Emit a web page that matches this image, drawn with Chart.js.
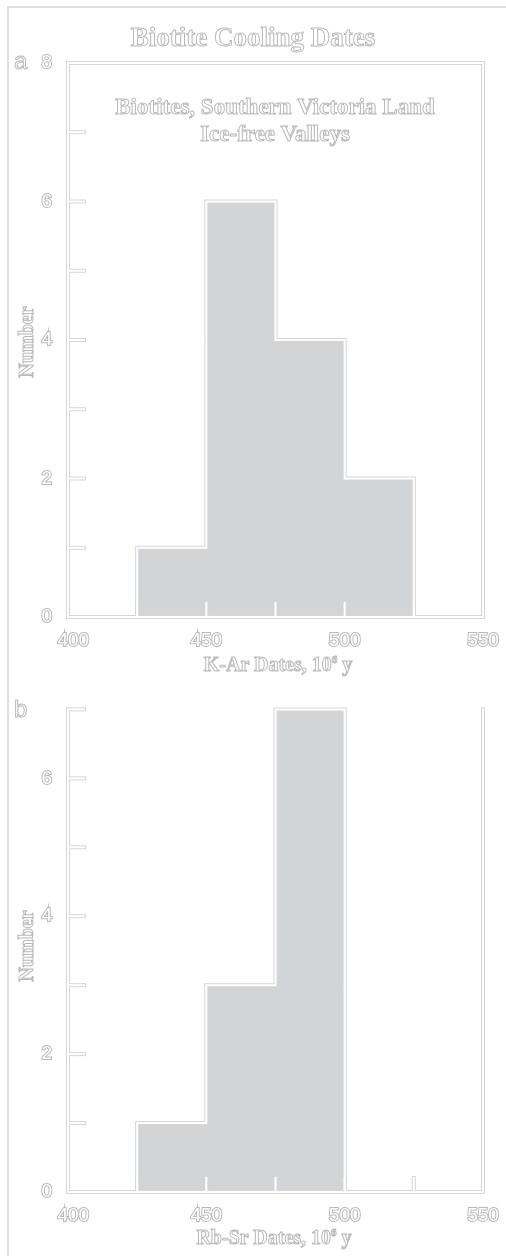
<!DOCTYPE html>
<html>
<head>
<meta charset="utf-8">
<script src="https://cdn.jsdelivr.net/npm/chart.js@4.4.1/dist/chart.umd.min.js"></script>
<style>
  html, body { margin: 0; padding: 0; background: #fff; }
  #fig { position: relative; width: 506px; height: 1256px; overflow: hidden; }
  #frame { position: absolute; left: 7px; top: 6px; right: -4px; bottom: -4px;
           border-left: 2px solid #e0e0e0; border-top: 2px solid #e0e0e0; }
  canvas { position: absolute; left: 0; }
  .lbl { position: absolute; color: #fff; -webkit-text-stroke: 1px #b9b9b9;
         font-family: 'Liberation Serif', 'Times New Roman', serif; font-weight: bold;
         white-space: nowrap; line-height: 1; transform: translate(-50%, -50%); }
  .lbl sup { font-size: 0.55em; vertical-align: 0.7em; }
  .rot { transform: translate(-50%, -50%) rotate(-90deg); }
  .tag { position: absolute; color: #fff; -webkit-text-stroke: 1px #b9b9b9;
         font-family: 'Liberation Sans Narrow', 'Liberation Sans', sans-serif; font-size: 24px; line-height: 1; }
</style>
</head>
<body>
<div id="fig">
  <div id="frame"></div>
  <canvas id="kar" width="506" height="690" style="top:0"></canvas>
  <canvas id="rbsr" width="506" height="566" style="top:690px"></canvas>

  <div class="lbl" style="left:253px; top:37px; font-size:27px;">Biotite Cooling Dates</div>
  <div class="lbl" style="left:275px; top:106px; font-size:23px;">Biotites, Southern Victoria Land</div>
  <div class="lbl" style="left:275px; top:133px; font-size:23px;">Ice-free Valleys</div>
  <div class="lbl" style="left:278px; top:664px; font-size:20px;">K-Ar Dates, 10<sup>6</sup> y</div>
  <div class="lbl" style="left:274px; top:1237px; font-size:20px;">Rb-Sr Dates, 10<sup>6</sup> y</div>
  <div class="lbl rot" style="left:26px; top:342px; font-size:20px;">Number</div>
  <div class="lbl rot" style="left:26px; top:946px; font-size:20px;">Number</div>
  <div class="tag" style="left:14px; top:49px;">a</div>
  <div class="tag" style="left:14px; top:697px;">b</div>
</div>

<script>
// histogram bins (10^6 y) and counts
const binEdges = [425, 450, 475, 500, 525];
const kArCounts = [1, 6, 4, 2];
const rbSrCounts = [1, 3, 7];
const xTicks = [400, 450, 500, 550];
const xMinorTicks = [425, 450, 475, 500, 525];

const barGray = '#d3d4d6';
const edgeGray = '#d6d6d6';
const outline = '#b9b9b9';
const tickFont = { family: "'Liberation Sans Narrow', 'Liberation Sans', sans-serif", size: 19 };

// histogram outline as corner points: up from the baseline, across each bin, back down
function histPoints(counts) {
  const pts = [{ x: binEdges[0], y: 0 }];
  counts.forEach((c, i) => {
    pts.push({ x: binEdges[i], y: c });
    pts.push({ x: binEdges[i + 1], y: c });
  });
  pts.push({ x: binEdges[counts.length], y: 0 });
  return pts;
}

// white lines with a light grey edge, like the original's embossed look
const doubleLines = {
  id: 'doubleLines',
  afterDatasetsDraw(chart, args, opts) {
    const { ctx, chartArea: a, scales: { x, y } } = chart;
    const segs = [];
    const pts = chart.getDatasetMeta(0).data;
    segs.push(pts.map(p => [p.x, p.y]));
    if (opts.closedTop) {
      segs.push([[a.left, a.bottom], [a.left, a.top], [a.right, a.top], [a.right, a.bottom], [a.left, a.bottom]]);
    } else {
      segs.push([[a.left, a.top], [a.left, a.bottom], [a.right, a.bottom], [a.right, a.top]]);
    }
    y.ticks.forEach(t => {
      const py = y.getPixelForValue(t.value);
      segs.push([[a.left, py], [a.left + 16, py]]);
    });
    xMinorTicks.forEach(v => {
      const px = x.getPixelForValue(v);
      segs.push([[px, a.bottom], [px, a.bottom - 14]]);
    });
    ctx.save();
    ctx.lineJoin = 'miter';
    ctx.lineCap = 'square';
    [[edgeGray, 4], ['#fff', 2]].forEach(([c, w]) => {
      ctx.strokeStyle = c;
      ctx.lineWidth = w;
      segs.forEach(s => {
        ctx.beginPath();
        s.forEach(([px, py], i) => i ? ctx.lineTo(px, py) : ctx.moveTo(px, py));
        ctx.stroke();
      });
    });
    ctx.restore();
  }
};

function makeChart(id, counts, yMax, closedTop, pad) {
  return new Chart(document.getElementById(id), {
    type: 'line',
    data: {
      datasets: [{
        data: histPoints(counts),
        fill: 'origin',
        backgroundColor: barGray,
        borderColor: 'rgba(0,0,0,0)',
        borderWidth: 0,
        pointRadius: 0,
        tension: 0
      }]
    },
    options: {
      responsive: false,
      animation: false,
      devicePixelRatio: 1,
      layout: { padding: pad },
      plugins: {
        legend: { display: false },
        tooltip: { enabled: false },
        doubleLines: { closedTop: closedTop }
      },
      scales: {
        x: {
          type: 'linear', min: 400, max: 550,
          grid: { display: false }, border: { display: false },
          afterBuildTicks: s => { s.ticks = xTicks.map(v => ({ value: v })); },
          afterFit: s => { s.height = 40; },
          ticks: {
            padding: 4, color: '#fff', textStrokeColor: outline, textStrokeWidth: 2,
            font: tickFont, maxRotation: 0, autoSkip: false,
            callback: v => v === 400 ? '  400' : v
          }
        },
        y: {
          min: 0, max: yMax,
          grid: { display: false }, border: { display: false },
          afterFit: s => { s.width = 28; },
          ticks: {
            stepSize: 1, padding: 8, color: '#fff', textStrokeColor: outline, textStrokeWidth: 2,
            font: tickFont,
            callback: v => v % 2 === 0 ? v : ''
          }
        }
      }
    },
    plugins: [doubleLines]
  });
}

makeChart('kar', kArCounts, 8, true, { left: 40, right: 23, top: 63, bottom: 33 });
makeChart('rbsr', rbSrCounts, 7, false, { left: 40, right: 23, top: 15, bottom: 24 });
</script>
</body>
</html>
